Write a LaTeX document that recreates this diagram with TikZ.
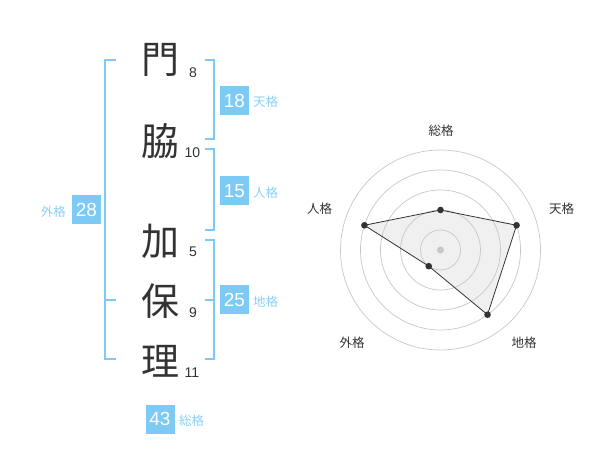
\documentclass[tikz,border=0pt]{standalone}
\usepackage{fontspec}
\setmainfont{Liberation Sans}
\newfontfamily\jp{Noto Sans CJK JP}
\definecolor{kakublue}{RGB}{125,202,245}
\definecolor{kakutext}{RGB}{140,208,246}
\definecolor{ink}{RGB}{51,51,51}
\tikzset{
    kanji/.style={text=ink, font=\jp\fontsize{38}{38}\selectfont, inner sep=0pt},
    strokes/.style={text=ink, font=\fontsize{14}{14}\selectfont, inner sep=0pt},
    kakubox/.style={fill=kakublue, text=white, minimum size=29pt, inner sep=0pt, font=\fontsize{19}{19}\selectfont},
    kakuname/.style={text=kakutext, font=\jp\fontsize{12.5}{12.5}\selectfont, inner sep=0pt},
    bracket/.style={draw=kakublue, line width=1.6pt},
    axisname/.style={text=ink, font=\jp\fontsize{12.5}{12.5}\selectfont, inner sep=0pt},
}
\begin{document}
\begin{tikzpicture}[x=1pt,y=-1pt]

            \useasboundingbox (0,0) rectangle (600,470);

            % name and stroke counts
            \node[kanji] (c1) at (160,60)    {門};  \node[strokes] (n1) at (193,73)    {8};
            \node[kanji] (c2) at (160,141.5) {脇};  \node[strokes] (n2) at (192.5,153) {10};
            \node[kanji] (c3) at (160,241.5) {加};  \node[strokes] (n3) at (193,252)   {5};
            \node[kanji] (c4) at (160,301)   {保};  \node[strokes] (n4) at (193,313)   {9};
            \node[kanji] (c5) at (160,361)   {理};  \node[strokes] (n5) at (192,373)   {11};

            % brackets
            \draw[bracket] (116,60) -| (105,359) -- (116,359);
            \draw[bracket] (105,300) -- (116,300);
            \draw[bracket] (205,60) -| (214,139) -- (205,139);
            \draw[bracket] (205,149) -| (214,230) -- (205,230);
            \draw[bracket] (205,240) -| (214,359) -- (205,359);
            \draw[bracket] (205,300) -- (214,300);

            % kaku values
            \node[kakubox] (ten) at (234.5,100.5) {18};  \node[kakuname, anchor=west] at (253,102) {天格};
            \node[kakubox] (jin) at (234.5,191)   {15};  \node[kakuname, anchor=west] at (253,192.5) {人格};
            \node[kakubox] (chi) at (234.5,300)   {25};  \node[kakuname, anchor=west] at (253,302) {地格};
            \node[kakubox] (gai) at (86.5,210)    {28};  \node[kakuname, anchor=east] at (66,211.5) {外格};
            \node[kakubox] (sou) at (160,419)     {43};  \node[kakuname, anchor=west] at (179,421) {総格};

            % radar chart
            \begin{scope}[shift={(440.5,250)}, y=1pt]
                \fill[black!6] (90:40) -- (18:80) -- (-54:80) -- (-126:20) -- (162:80) -- cycle;
                \foreach \r in {20,40,...,100} {
                    \draw[black!22, line width=0.7pt] (0,0) circle (\r);
                }
                \fill[black!22] (0,0) circle (3.5);
                \draw[ink, line width=0.8pt] (90:40) -- (18:80) -- (-54:80) -- (-126:20) -- (162:80) -- cycle;
                \foreach \a/\r in {90/40,18/80,-54/80,-126/20,162/80} {
                    \fill[ink] (\a:\r) circle (3.3);
                }
            \end{scope}

            \node[axisname] (sougaku) at (441,130.5) {総格};
            \node[axisname] (tengaku) at (561.5,209) {天格};
            \node[axisname] (jingaku) at (319.5,209) {人格};
            \node[axisname] (gaigaku) at (352,342.5) {外格};
            \node[axisname] (chigaku) at (524,342.5) {地格};
        \end{tikzpicture}
\end{document}
